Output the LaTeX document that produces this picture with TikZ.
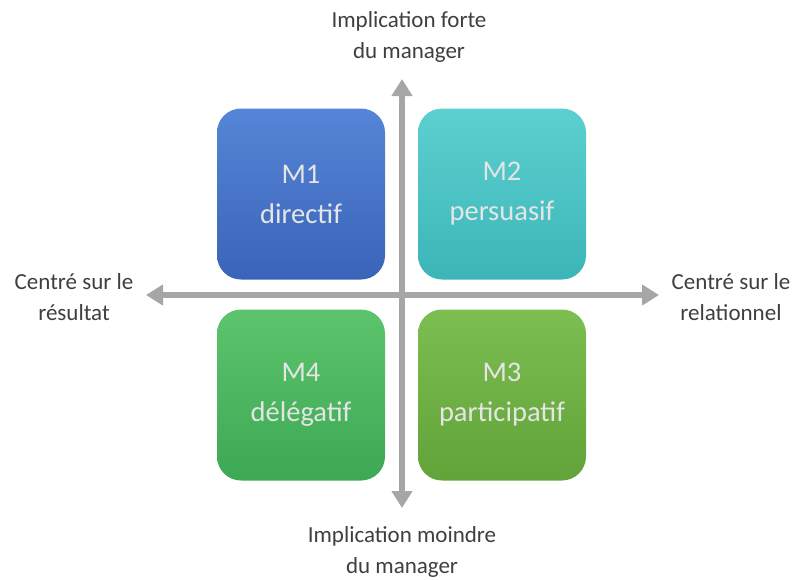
\documentclass[tikz,border=0pt]{standalone}
\usepackage{fontspec}
\setmainfont{Carlito}
\usetikzlibrary{arrows.meta}
\definecolor{axisgray}{HTML}{A6A6A6}
\definecolor{labgray}{HTML}{3F3F3F}
\definecolor{mblueT}{HTML}{5585D6}\definecolor{mblueB}{HTML}{3A64B8}
\definecolor{mtealT}{HTML}{5CD0D0}\definecolor{mtealB}{HTML}{3CB5B8}
\definecolor{mgreenT}{HTML}{5CC46C}\definecolor{mgreenB}{HTML}{3DA855}
\definecolor{moliveT}{HTML}{7CBE50}\definecolor{moliveB}{HTML}{62A33A}
\begin{document}
\begin{tikzpicture}[x=1pt,y=-1pt,
  quad/.style={rounded corners=24pt, minimum width=168pt, minimum height=171pt,
    inner sep=0pt, align=center, font=\fontsize{28.5}{34}\selectfont, text=white!90!black},
  axis/.style={draw=axisgray, line width=6pt, -{Triangle[width=20pt,length=17pt]}},
  lab/.style={align=center, text=labgray, font=\fontsize{23}{31}\selectfont}]
\useasboundingbox (0,0) rectangle (795,579);
\node[quad, top color=mblueT, bottom color=mblueB] (m1) at (301,194) {M1\\[6pt]directif};
\node[quad, top color=mtealT, bottom color=mtealB] (m2) at (502,194) {M2\\[6pt]persuasif};
\node[quad, top color=mgreenT, bottom color=mgreenB] (m4) at (301,395) {M4\\[6pt]délégatif};
\node[quad, top color=moliveT, bottom color=moliveB] (m3) at (502,395) {M3\\[6pt]participatif};
\coordinate (c) at (402,295);
\coordinate (top) at (402,79);
\coordinate (bot) at (402,508);
\coordinate (lft) at (146,295);
\coordinate (rgt) at (659,295);
\draw[axis] (c) -- (top);
\draw[axis] (c) -- (bot);
\draw[axis] (c) -- (lft);
\draw[axis] (c) -- (rgt);
\node[lab] (lt) at (409,37) {Implication forte\\du manager};
\node[lab] (lb) at (402,552) {Implication moindre\\du manager};
\node[lab] (ll) at (74,297) {Centré sur le\\résultat};
\node[lab] (lr) at (731,297) {Centré sur le\\relationnel};
\end{tikzpicture}
\end{document}
